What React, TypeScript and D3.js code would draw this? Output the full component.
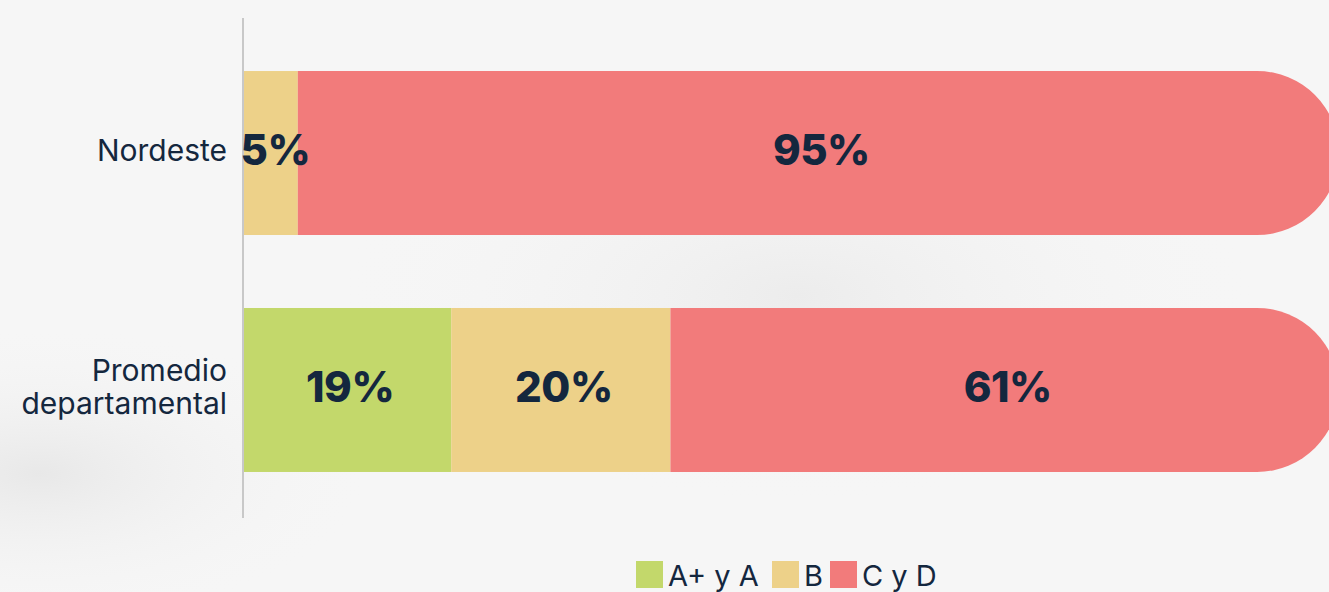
import React from "react";
import * as d3 from "d3";

const categories = ["Nordeste", "Promedio departamental"];
const categoryLines = [["Nordeste"], ["Promedio", "departamental"]];
const seriesNames = ["A+ y A", "B", "C y D"];
const seriesColors = ["#c3d86b", "#edd189", "#f27b7b"];
const valuesAA = [0, 19];
const valuesB = [5, 20];
const valuesCD = [95, 61];
const labelAA = ["", "19%"];
const labelB = ["5%", "20%"];
const labelCD = ["95%", "61%"];

const W = 1329;
const H = 592;
const FONT = "Inter, Lato, sans-serif";
const TEXT = "#14273e";

export default function App() {
  const x = d3.scaleLinear().domain([0, 100]).range([243, 1339]);
  const y = d3.scaleBand().domain(categories).range([17, 526]).paddingInner(0.308).paddingOuter(0.228);
  const series = [valuesAA, valuesB, valuesCD];
  const labels = [labelAA, labelB, labelCD];

  const bars: JSX.Element[] = [];
  const texts: JSX.Element[] = [];
  categories.forEach((cat, ci) => {
    let acc = 0;
    const y0 = y(cat)!;
    const h = y.bandwidth();
    series.forEach((vals, si) => {
      const v = vals[ci];
      if (v <= 0) { return; }
      const x0 = x(acc);
      const x1 = x(acc + v);
      acc += v;
      const isLast = si === series.length - 1;
      if (isLast) {
        const r = h / 2;
        const p = d3.path();
        p.moveTo(x0, y0);
        p.lineTo(x1 - r, y0);
        p.arc(x1 - r, y0 + r, r, -Math.PI / 2, Math.PI / 2);
        p.lineTo(x0, y0 + h);
        p.closePath();
        bars.push(<path key={`b${ci}-${si}`} d={p.toString()} fill={seriesColors[si]} />);
      } else {
        bars.push(<rect key={`b${ci}-${si}`} x={x0} y={y0} width={x1 - x0} height={h} fill={seriesColors[si]} />);
      }
      texts.push(
        <text key={`t${ci}-${si}`} x={(x0 + x1) / 2 + (v < 8 ? 5 : 3)} y={y0 + h / 2 - 3} dy="0.36em" textAnchor="middle"
          fontFamily={FONT} fontWeight={800} fontSize={42} letterSpacing={-0.5} fill={TEXT}>{labels[si][ci]}</text>
      );
    });
  });

  const legendX = [636, 772, 830];
  return (
    <svg width={W} height={H} style={{ position: "absolute", left: 0, top: 0 }}>
      <defs>
        <radialGradient id="bg1" cx="0.6" cy="0.5" r="0.35">
          <stop offset="0" stopColor="#ececec" />
          <stop offset="1" stopColor="#f6f6f6" stopOpacity="0" />
        </radialGradient>
        <radialGradient id="bg2" cx="0.03" cy="0.8" r="0.25">
          <stop offset="0" stopColor="#e8e8e8" />
          <stop offset="1" stopColor="#f6f6f6" stopOpacity="0" />
        </radialGradient>
      </defs>
      <rect width={W} height={H} fill="#f6f6f6" />
      <rect width={W} height={H} fill="url(#bg1)" />
      <rect width={W} height={H} fill="url(#bg2)" />
      {bars}
      <line x1={243} x2={243} y1={18} y2={518} stroke="#c8c8c8" strokeWidth={2} />
      {texts}
      {categories.map((cat, ci) => {
        const lines = categoryLines[ci];
        const cy = y(cat)! + y.bandwidth() / 2 - 3;
        const lh = 33;
        return (
          <text key={cat} textAnchor="end" fontFamily={FONT} fontSize={30} fill={TEXT}>
            {lines.map((l, li) => (
              <tspan key={li} x={227} y={cy + (li - (lines.length - 1) / 2) * lh} dy="0.36em">{l}</tspan>
            ))}
          </text>
        );
      })}
      {seriesNames.map((n, i) => (
        <g key={n}>
          <rect x={legendX[i]} y={561} width={27} height={27} fill={seriesColors[i]} />
          <text x={legendX[i] + 32} y={576} dy="0.36em" fontFamily={FONT} fontSize={29} fill={TEXT}>{n}</text>
        </g>
      ))}
    </svg>
  );
}
